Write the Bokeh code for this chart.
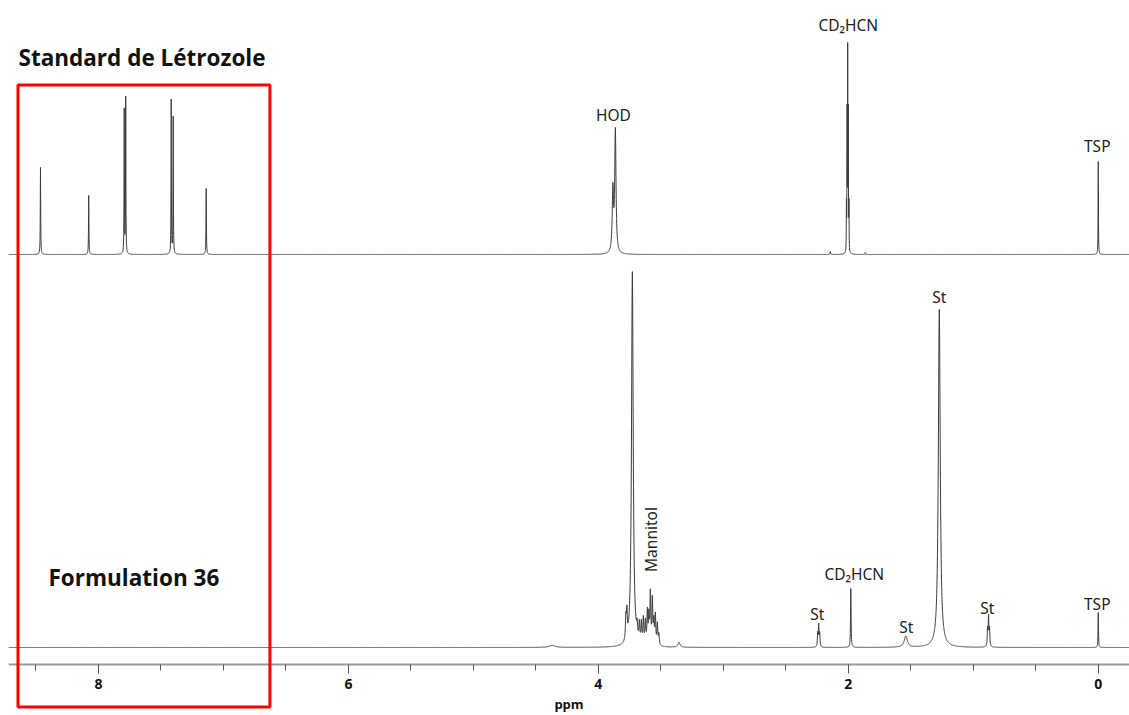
import numpy as np
from bokeh.plotting import figure
from bokeh.models import Range1d, FixedTicker, BoxAnnotation, ColumnDataSource
from bokeh.core.properties import value
from bokeh.embed import file_html
from bokeh.resources import INLINE

# ---------------- data ----------------
# Top trace: "Standard de Létrozole" – peak shifts (ppm), heights (px-like units), half widths (ppm)
std_ppm    = [8.464, 8.078, 7.794, 7.782, 7.418, 7.402, 7.138,
              3.884, 3.864,
              2.015, 2.010, 2.005, 2.000, 1.995, 2.144, 1.864,
              0.000]
std_height = [87, 59, 144, 156, 154, 137, 66,
              62, 122,
              45, 135, 196, 135, 45, 3, 2,
              93]
std_hwhm   = [0.0018, 0.0018, 0.0016, 0.0016, 0.0016, 0.0016, 0.0018,
              0.006, 0.006,
              0.0012, 0.0012, 0.0012, 0.0012, 0.0012, 0.002, 0.002,
              0.0015]

# Bottom trace: "Formulation 36"
f36_ppm    = [3.780, 3.772, 3.728,
              3.690, 3.672, 3.656, 3.640, 3.624, 3.608, 3.596, 3.584, 3.568, 3.556, 3.544, 3.528, 3.516,
              3.355, 4.37,
              2.245, 2.237, 2.229,
              1.980, 1.540, 1.272,
              0.886, 0.878, 0.870,
              0.000]
f36_height = [22, 26, 375,
              12, 18, 20, 25, 22, 32, 27, 50, 44, 22, 29, 21, 11,
              5, 2,
              13, 21, 13,
              59, 11, 338,
              17, 29, 17,
              35]
f36_hwhm   = [0.004, 0.004, 0.008,
              0.004, 0.004, 0.004, 0.004, 0.004, 0.004, 0.004, 0.004, 0.004, 0.004, 0.004, 0.004, 0.004,
              0.01, 0.03,
              0.003, 0.003, 0.003,
              0.0025, 0.015, 0.009,
              0.003, 0.003, 0.003,
              0.002]

# peak annotations: text, ppm, vertical position (text centre)
top_labels   = ["HOD", "CD\u2082HCN", "TSP"]
top_lab_ppm  = [3.88, 2.00, 0.008]
top_lab_y    = [549.5, 639.5, 519]
bot_labels   = ["St", "CD\u2082HCN", "St", "St", "St", "TSP"]
bot_lab_ppm  = [2.248, 1.952, 1.536, 1.272, 0.888, 0.008]
bot_lab_y    = [50.5, 90.5, 37.5, 367.5, 56.5, 60.5]

titles       = ["Standard de Létrozole", "Formulation 36"]
title_ppm    = [8.64, 8.40]
title_y      = [607, 87]

# highlighted aromatic region (ppm edges, vertical extent)
box_ppm = [8.644, 6.628]
box_y   = [579.5, -42.5]

x_ticks       = [0, 2, 4, 6, 8]
x_minor_ticks = [0.5 * i for i in range(-1, 18)]

STD_OFFSET = 410
F36_OFFSET = 17

# ---------------- spectra from peak lists ----------------
grid = np.union1d(np.linspace(-0.25, 8.72, 9001), np.array(std_ppm + f36_ppm))


def spectrum(ppm, height, hwhm):
    y = np.zeros_like(grid)
    for c, h, w in zip(ppm, height, hwhm):
        y += h / (1.0 + ((grid - c) / w) ** 2)
    return y


std_y = spectrum(std_ppm, std_height, std_hwhm) + STD_OFFSET
f36_y = spectrum(f36_ppm, f36_height, f36_hwhm) + F36_OFFSET

p = figure(width=1129, height=715,
           x_range=Range1d(8.72, -0.25), y_range=Range1d(-51, 656),
           output_backend="svg", toolbar_location=None,
           y_axis_location=None,
           min_border_left=8, min_border_right=0, min_border_top=8, min_border_bottom=0)
p.outline_line_color = None
p.xgrid.visible = False
p.ygrid.visible = False
p.background_fill_color = "white"
p.border_fill_color = "white"

line_color = "#3c3c3c"
p.line(grid, std_y, line_color=line_color, line_width=1)
p.line(grid, f36_y, line_color=line_color, line_width=1)

# red highlight box
box = BoxAnnotation(left=box_ppm[0], right=box_ppm[1], top=box_y[0], bottom=box_y[1],
                    level="overlay", fill_alpha=0, fill_color=None,
                    line_color="#ff0000", line_alpha=1.0, line_width=3)
p.add_layout(box)

lab_font = value("Noto Sans")
src_top = ColumnDataSource(dict(x=top_lab_ppm, y=top_lab_y, t=top_labels))
src_bot = ColumnDataSource(dict(x=bot_lab_ppm, y=bot_lab_y, t=bot_labels))
for src in (src_top, src_bot):
    p.text(x="x", y="y", text="t", source=src, text_font=lab_font,
           text_font_size="15.5px", text_align="center", text_baseline="middle",
           text_color="#222222")

p.text(x=[3.576], y=[125], text=["Mannitol"], angle=np.pi / 2, text_font=lab_font,
       text_font_size="15.5px", text_align="center", text_baseline="middle",
       text_color="#222222")

p.text(x=title_ppm, y=title_y, text=titles, text_font=value("Open Sans"),
       text_font_size="22.5px", text_font_style="bold", text_align="left",
       text_baseline="middle", text_color="#111111")

ax = p.xaxis[0]
ax.fixed_location = 0
ax.ticker = FixedTicker(ticks=x_ticks, minor_ticks=x_minor_ticks)
ax.axis_line_color = "#999999"
ax.axis_line_width = 2
ax.major_tick_line_color = "#555555"
ax.minor_tick_line_color = "#555555"
ax.major_tick_in = 0
ax.minor_tick_in = 0
ax.major_tick_out = 9
ax.minor_tick_out = 6
ax.major_label_standoff = 5
ax.major_label_text_font = "Open Sans"
ax.major_label_text_font_size = "14px"
ax.major_label_text_font_style = "bold"
ax.major_label_text_color = "#111111"
ax.axis_label = "ppm"
ax.axis_label_text_font = "Open Sans"
ax.axis_label_text_font_size = "13px"
ax.axis_label_text_font_style = "bold"
ax.axis_label_text_color = "#111111"
ax.axis_label_standoff = 3

open("out.html", "w").write(file_html(p, INLINE))
